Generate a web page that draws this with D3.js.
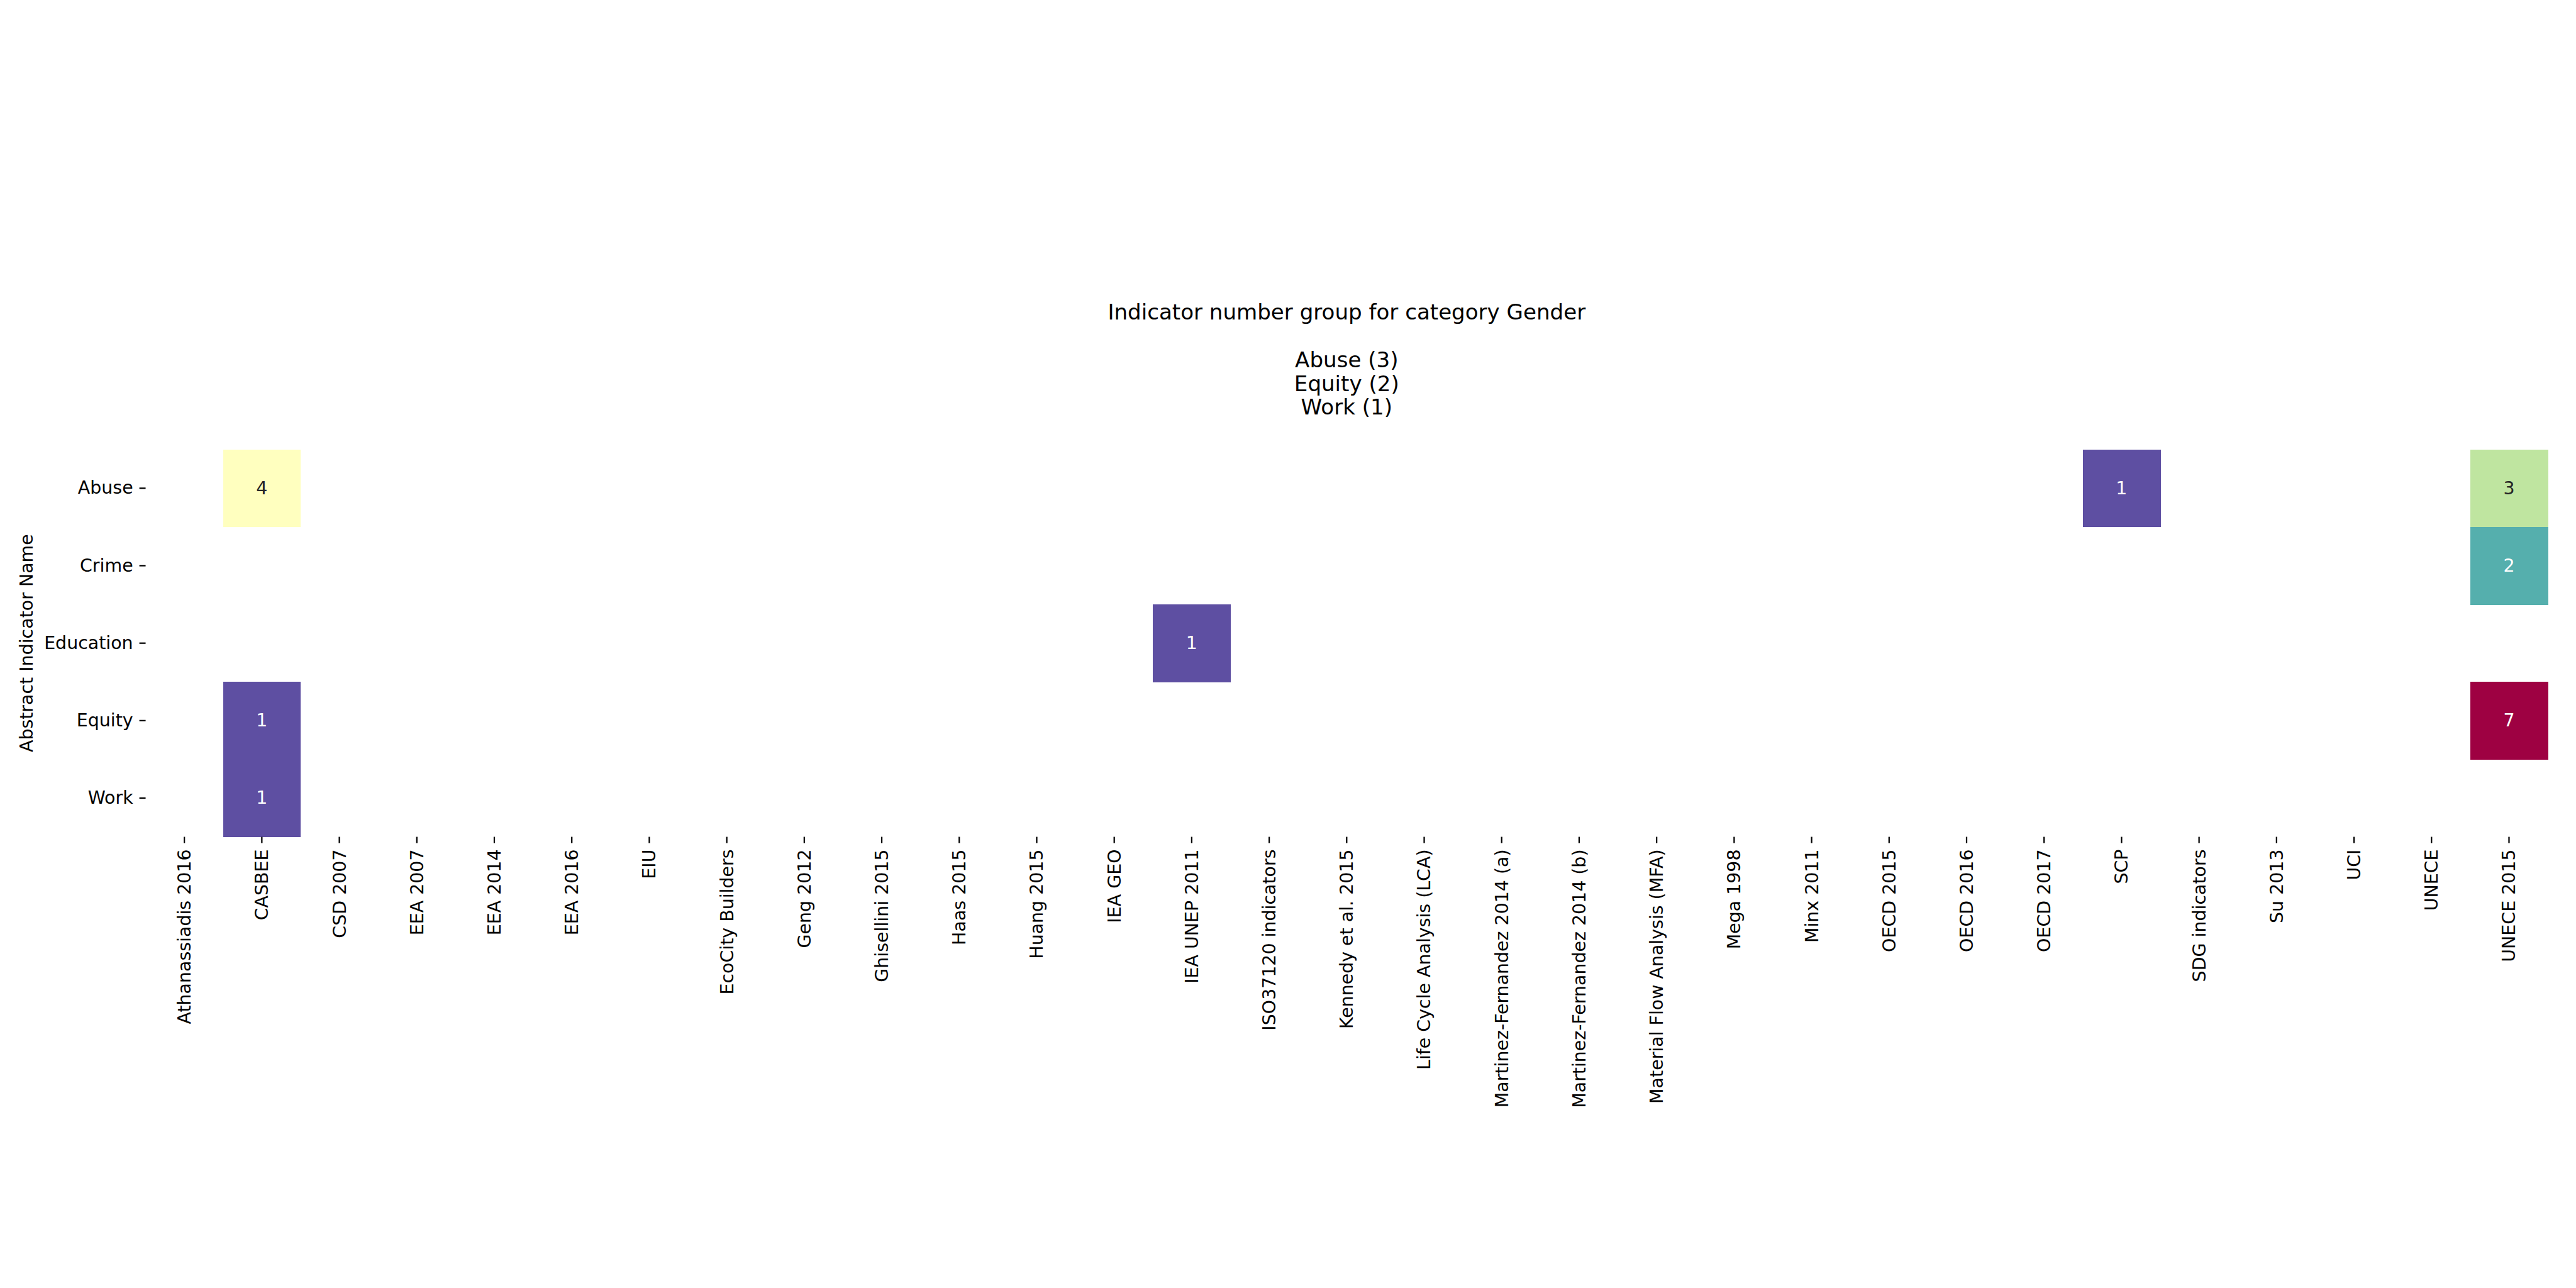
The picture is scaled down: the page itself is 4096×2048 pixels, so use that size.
<!DOCTYPE html>
<html>
<head>
<meta charset="utf-8">
<script src="https://cdn.jsdelivr.net/npm/d3@7"></script>
<style>
  html, body { margin: 0; padding: 0; background: #ffffff; }
  svg { display: block; }
  text { font-family: "DejaVu Sans", sans-serif; }
</style>
</head>
<body>
<div id="chart"></div>
<script>
// ---- data ----
const sources = [
  "Athanassiadis 2016", "CASBEE", "CSD 2007", "EEA 2007", "EEA 2014", "EEA 2016",
  "EIU", "EcoCity Builders", "Geng 2012", "Ghisellini 2015", "Haas 2015", "Huang 2015",
  "IEA GEO", "IEA UNEP 2011", "ISO37120 indicators", "Kennedy et al. 2015",
  "Life Cycle Analysis (LCA)", "Martinez-Fernandez 2014 (a)", "Martinez-Fernandez 2014 (b)",
  "Material Flow Analysis (MFA)", "Mega 1998", "Minx 2011", "OECD 2015", "OECD 2016",
  "OECD 2017", "SCP", "SDG indicators", "Su 2013", "UCI", "UNECE", "UNECE 2015"
];
const indicators = ["Abuse", "Crime", "Education", "Equity", "Work"];
const cellIndicator = ["Abuse", "Abuse", "Abuse", "Crime", "Education", "Equity", "Equity", "Work"];
const cellSource    = ["CASBEE", "SCP", "UNECE 2015", "UNECE 2015", "IEA UNEP 2011", "CASBEE", "UNECE 2015", "CASBEE"];
const cellValue     = [4, 1, 3, 2, 1, 1, 7, 1];
const titleLines = ["Indicator number group for category Gender", "", "Abuse (3)", "Equity (2)", "Work (1)"];
const yAxisTitle = "Abstract Indicator Name";
const vMin = 1, vMax = 7;

const cells = cellValue.map((v, i) => ({ ind: cellIndicator[i], src: cellSource[i], v }));

// ---- layout (reference 6000x3000 scaled by 0.682) ----
const S = 0.682;
const W = 4096, H = 2048;
const mLeft = 339.5 * S, mRight = 5940 * S, mTop = 1048 * S, mBottom = 1951 * S;
const tickFont = 41.7 * S;
const titleFont = 50 * S;
const tickLen = 14.6 * S, tickPad = 14.6 * S, tickW = 3.3 * S;

const svg = d3.select("#chart").append("svg")
  .attr("width", W).attr("height", H)
  .attr("viewBox", `0 0 ${W} ${H}`);
svg.append("rect").attr("width", W).attr("height", H).attr("fill", "#fff");

const x = d3.scaleBand().domain(sources).range([mLeft, mRight]).padding(0);
const y = d3.scaleBand().domain(indicators).range([mTop, mBottom]).padding(0);

// Spectral_r, linear between ColorBrewer anchors (like matplotlib)
const spec = d3.schemeSpectral[11].slice().reverse();
const color = d3.scaleLinear()
  .domain(d3.range(11).map(i => vMin + (vMax - vMin) * i / 10))
  .range(spec)
  .interpolate(d3.interpolateRgb)
  .clamp(true);

function relLum(c) {
  const rgb = d3.rgb(c);
  const f = u => { u = u / 255; return u <= 0.03928 ? u / 12.92 : Math.pow((u + 0.055) / 1.055, 2.4); };
  return 0.2126 * f(rgb.r) + 0.7152 * f(rgb.g) + 0.0722 * f(rgb.b);
}

// cells
const g = svg.append("g");
g.selectAll("rect.cell").data(cells).join("rect")
  .attr("class", "cell")
  .attr("x", d => x(d.src))
  .attr("y", d => y(d.ind))
  .attr("width", x.bandwidth() + 0.5)
  .attr("height", y.bandwidth() + 0.5)
  .attr("fill", d => color(d.v))
  .attr("shape-rendering", "crispEdges");

g.selectAll("text.annot").data(cells).join("text")
  .attr("class", "annot")
  .attr("x", d => x(d.src) + x.bandwidth() / 2)
  .attr("y", d => y(d.ind) + y.bandwidth() / 2)
  .attr("text-anchor", "middle")
  .attr("dominant-baseline", "central")
  .attr("font-size", tickFont)
  .attr("fill", d => relLum(color(d.v)) > 0.408 ? "#262626" : "#ffffff")
  .text(d => d.v);

// x axis
const xAxis = svg.append("g")
  .attr("transform", `translate(0,${mBottom})`)
  .call(d3.axisBottom(x).tickSize(tickLen).tickPadding(0));
xAxis.select(".domain").remove();
xAxis.selectAll(".tick line").attr("stroke", "#000").attr("stroke-width", tickW);
xAxis.selectAll(".tick text")
  .attr("font-size", tickFont)
  .attr("font-family", "DejaVu Sans, sans-serif")
  .attr("fill", "#000")
  .attr("text-anchor", "end")
  .attr("x", 0).attr("y", 0).attr("dy", "0.35em")
  .attr("transform", `translate(0,${tickLen + tickPad}) rotate(-90)`);

// y axis
const yAxis = svg.append("g")
  .attr("transform", `translate(${mLeft},0)`)
  .call(d3.axisLeft(y).tickSize(tickLen).tickPadding(tickPad));
yAxis.select(".domain").remove();
yAxis.selectAll(".tick line").attr("stroke", "#000").attr("stroke-width", tickW);
yAxis.selectAll(".tick text")
  .attr("font-size", tickFont)
  .attr("font-family", "DejaVu Sans, sans-serif")
  .attr("fill", "#000");

// y axis title
svg.append("text")
  .attr("transform", `translate(${62 * S},${(mTop + mBottom) / 2}) rotate(-90)`)
  .attr("text-anchor", "middle")
  .attr("dominant-baseline", "central")
  .attr("font-size", tickFont)
  .attr("fill", "#000")
  .text(yAxisTitle);

// title
const titleX = (mLeft + mRight) / 2;
const firstBaseline = 745 * S;
const lineH = 55.5 * S;
svg.append("g").selectAll("text").data(titleLines).join("text")
  .attr("x", titleX)
  .attr("y", (d, i) => firstBaseline + i * lineH)
  .attr("text-anchor", "middle")
  .attr("font-size", titleFont)
  .attr("fill", "#000")
  .text(d => d);
</script>
</body>
</html>
